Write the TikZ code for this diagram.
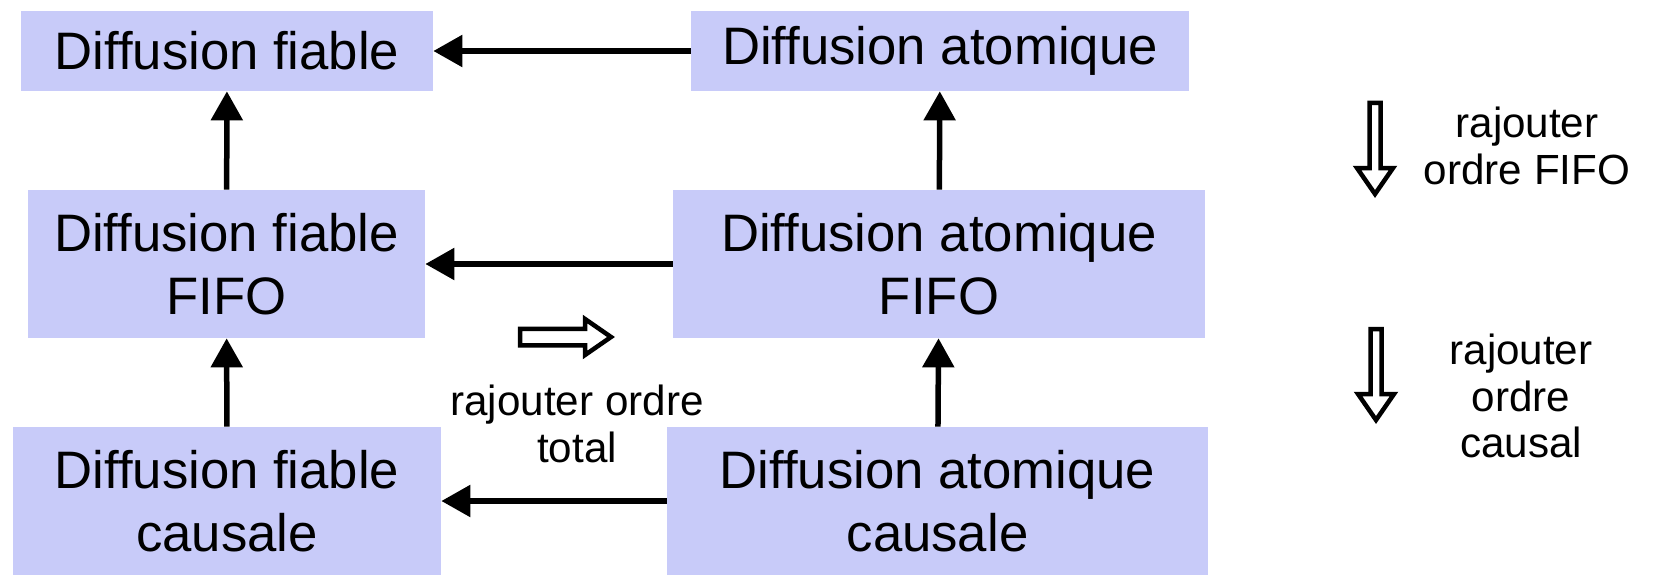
\documentclass[tikz,border=0pt]{standalone}
\usepackage{fontspec}
\setmainfont{Liberation Sans}
\usepackage{tikz}
\usetikzlibrary{arrows.meta}

\definecolor{lavande}{RGB}{200,203,249}

\begin{document}
\begin{tikzpicture}
    \tikzset{diffbox/.style={fill=lavande, inner sep=0pt, align=center,
      font=\fontsize{30}{36}\selectfont}}
    \tikzset{lien/.style={-{Triangle[length=0.58cm,width=0.62cm]}, line width=0.11cm}}
    \tikzset{note/.style={align=center, font=\fontsize{24}{26.5}\selectfont}}
    \tikzset{pics/vide/.style={code={
      \draw[line width=0.09cm, fill=white] (0,#1) -- (1.3,#1) -- (1.3,0.36)
        -- (1.82,0) -- (1.3,-0.36) -- (1.3,-#1) -- (0,-#1) -- cycle;}}}
    \useasboundingbox (0,0) rectangle (33.08,-11.52);
    % les six diffusions
    \node[diffbox, minimum width=8.24cm, minimum height=1.6cm] (fiable) at (4.54,-1.02) {Diffusion fiable};
    \node[diffbox, minimum width=9.96cm, minimum height=1.6cm] (atomique) at (18.80,-1.02) {Diffusion atomique};
    \node[diffbox, minimum width=7.94cm, minimum height=2.96cm] (fiablefifo) at (4.53,-5.28) {Diffusion fiable\\FIFO};
    \node[diffbox, minimum width=10.64cm, minimum height=2.96cm] (atomiquefifo) at (18.78,-5.28) {Diffusion atomique\\FIFO};
    \node[diffbox, minimum width=8.56cm, minimum height=2.96cm] (fiablecausale) at (4.54,-10.02) {Diffusion fiable\\causale};
    \node[diffbox, minimum width=10.82cm, minimum height=2.96cm] (atomiquecausale) at (18.75,-10.02) {Diffusion atomique\\causale};
    % liens
    \draw[lien] (atomique) -- (fiable);
    \draw[lien] (atomiquefifo) -- (fiablefifo);
    \draw[lien] (atomiquecausale) -- (fiablecausale);
    \draw[lien] (fiablefifo) -- (fiable);
    \draw[lien] (fiablecausale) -- (fiablefifo);
    \draw[lien] (atomiquefifo) -- (atomique);
    \draw[lien] (atomiquecausale) -- (atomiquefifo);
    % legendes
    \pic (total) at (10.40,-6.74) {vide=0.165};
    \node[note] (ordretotal) at (11.54,-8.48) {rajouter ordre\\total};
    \pic[rotate=-90] (fifo) at (27.50,-2.06) {vide=0.11};
    \node[note] (ordrefifo) at (30.54,-2.92) {rajouter\\ordre FIFO};
    \pic[rotate=-90] (causal) at (27.52,-6.58) {vide=0.11};
    \node[note] (ordrecausal) at (30.42,-7.92) {rajouter\\ordre\\causal};
\end{tikzpicture}
\end{document}
